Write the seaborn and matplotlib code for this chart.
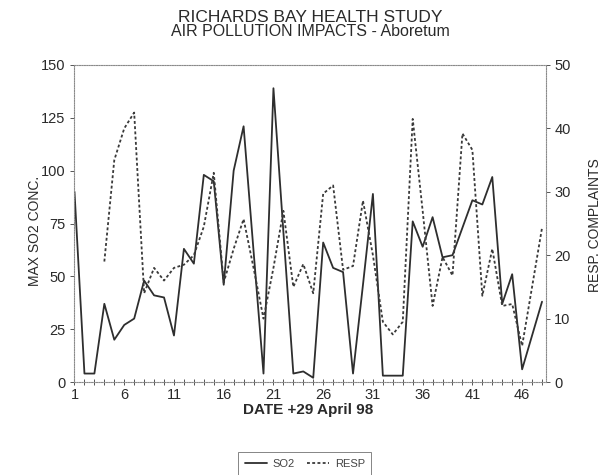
import numpy as np
import pandas as pd
import matplotlib
matplotlib.use("Agg")
import matplotlib.pyplot as plt
import seaborn as sns

# Daily series, starting 29 April 1998 (day 1)
days = list(range(1, 49))
so2 = [90, 4, 4, 37, 20, 27, 30, 48, 41, 40, 22, 63, 56, 98, 95, 46, 100, 121,
       62, 4, 139, 71, 4, 5, 2, 66, 54, 52, 4, 46, 89, 3, 3, 3, 76, 64, 78, 59,
       60, 73, 86, 84, 97, 37, 51, 6, 22, 38]
resp = [np.nan, np.nan, np.nan, 19, 35, 40, 42.5, 14, 18, 16, 18, 18.5, 20, 24.5,
        33, 15.7, 21, 25.7, 18, 10, 18, 27, 15, 18.6, 14, 29.7, 31, 17.7, 18.3,
        28.6, 20, 9.5, 7.5, 9.5, 41.5, 27, 12, 19.7, 16.8, 39.2, 36.6, 13.6, 21,
        12, 12.3, 5.7, 15, 24.3]

x_tick_days = [1, 6, 11, 16, 21, 26, 31, 36, 41, 46]
left_ticks = [0, 25, 50, 75, 100, 125, 150]
right_ticks = [0, 10, 20, 30, 40, 50]

sns.set_theme(style="white")
plt.rcParams['font.family'] = ['Liberation Sans', 'DejaVu Sans']

df = pd.DataFrame({"day": days, "SO2": so2, "RESP": resp})

W, H = 601, 475
fig = plt.figure(figsize=(W / 100, H / 100), dpi=100)
fig.patch.set_facecolor("white")
ax = fig.add_axes([74 / W, 1 - 382 / H, (546 - 74) / W, (382 - 65) / H])
ax2 = ax.twinx()

ink = "#2e2e2e"
sns.lineplot(data=df, x="day", y="SO2", ax=ax, color=ink, linewidth=1.3,
             label="SO2", legend=False)
sns.lineplot(data=df, x="day", y="RESP", ax=ax2, color="#3a3a3a", linewidth=1.3,
             label="RESP", legend=False)
ax2.lines[0].set_linestyle((0, (1.6, 1.3)))

ax.set_xlim(0.95, 48.4)
ax.set_ylim(0, 150)
ax2.set_ylim(0, 50)

ax.set_xticks(x_tick_days)
ax.set_xticklabels([str(d) for d in x_tick_days])
ax.set_xticks(days, minor=True)
ax.set_yticks(left_ticks)
ax.set_yticklabels([str(v) for v in left_ticks])
ax2.set_yticks(right_ticks)
ax2.set_yticklabels([str(v) for v in right_ticks])

for a in (ax, ax2):
    a.set_xlabel("")
    a.set_ylabel("")
    a.grid(False)
    for s in a.spines.values():
        s.set_visible(False)

# dotted frame around the plotting area
for side in ("left", "right", "top", "bottom"):
    sp = ax2.spines[side]
    sp.set_visible(True)
    sp.set_linestyle((0, (1, 1.2)))
    sp.set_linewidth(0.8)
    sp.set_color("#8a8a8a")

tick_col = "#555555"
ax.tick_params(axis="x", which="both", direction="inout", length=4, width=0.7,
               color=tick_col, labelsize=10.5, labelcolor="#2a2a2a", pad=2,
               bottom=True)
ax.tick_params(axis="y", which="major", direction="out", length=3, width=0.7,
               color=tick_col, labelsize=10.5, labelcolor="#2a2a2a", pad=3,
               left=True)
ax2.tick_params(axis="y", which="major", direction="out", length=3, width=0.7,
                color=tick_col, labelsize=10.5, labelcolor="#2a2a2a", pad=3,
                right=True)

txt = "#2a2a2a"
fig.text(310 / W, 1 - 17 / H, "RICHARDS BAY HEALTH STUDY", ha="center",
         va="center", fontsize=12.5, color=txt)
fig.text(310 / W, 1 - 32 / H, "AIR POLLUTION IMPACTS - Aboretum", ha="center",
         va="center", fontsize=11.5, color=txt)
fig.text(35 / W, 1 - 231 / H, "MAX SO2 CONC.", rotation=90, ha="center",
         va="center", fontsize=10, color=txt)
fig.text(595 / W, 1 - 225 / H, "RESP. COMPLAINTS", rotation=90, ha="center",
         va="center", fontsize=10, color=txt)
fig.text(308 / W, 1 - 410 / H, "DATE +29 April 98", ha="center", va="center",
         fontsize=11, fontweight="bold", color=txt)

handles = [ax.lines[0], ax2.lines[0]]
leg = fig.legend(handles, ["SO2", "RESP"], loc="upper left",
                 bbox_to_anchor=(238 / W, 1 - 452 / H), ncol=2, fontsize=8,
                 frameon=True, fancybox=False, borderaxespad=0,
                 handlelength=2.0, handletextpad=0.5, columnspacing=1.1,
                 borderpad=0.6)
leg.get_frame().set_edgecolor("#666666")
leg.get_frame().set_linewidth(0.7)
for t in leg.get_texts():
    t.set_color("#444444")

fig.savefig("out.png", dpi=100, facecolor="white")
